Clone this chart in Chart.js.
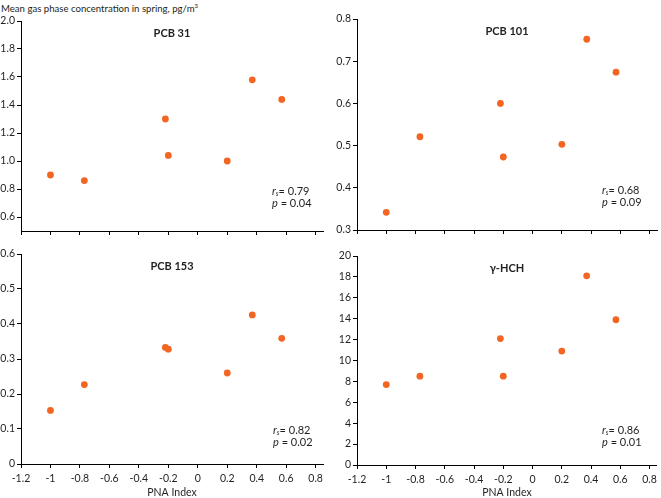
<!DOCTYPE html>
<html>
<head>
<meta charset="utf-8">
<script src="https://cdn.jsdelivr.net/npm/chart.js@4/dist/chart.umd.min.js"></script>
<style>
    body { margin: 0; background: #fff; width: 661px; height: 498px; position: relative; overflow: hidden; font-family: Lato, sans-serif; }
    .panel { position: absolute; }
    #main-title { position: absolute; left: 1px; top: 2px; font-size: 9.6px; color: #231f20; white-space: nowrap; }
    #main-title sup { font-size: 6px; }
</style>
</head>
<body>
<div id="main-title">Mean gas phase concentration in spring, pg/m<sup>3</sup></div>
<div class="panel" style="left:0;top:0;width:330px;height:240px"><canvas id="c0"></canvas></div>
<div class="panel" style="left:330px;top:0;width:331px;height:240px"><canvas id="c1"></canvas></div>
<div class="panel" style="left:0;top:240px;width:330px;height:258px"><canvas id="c2"></canvas></div>
<div class="panel" style="left:330px;top:240px;width:331px;height:258px"><canvas id="c3"></canvas></div>
<script>
// ===== Data =====
const pnaIndex = [-1.0, -0.77, -0.22, -0.2, 0.2, 0.37, 0.57];
const pcb31 = [0.90, 0.86, 1.30, 1.04, 1.00, 1.58, 1.44];
const pcb101 = [0.342, 0.521, 0.600, 0.473, 0.503, 0.752, 0.674];
const pcb153 = [0.153, 0.227, 0.333, 0.328, 0.260, 0.426, 0.359];
const hch = [7.7, 8.5, 12.1, 8.5, 10.9, 18.1, 13.9];

const xTicks = [-1.2, -1, -0.8, -0.6, -0.4, -0.2, 0, 0.2, 0.4, 0.6, 0.8];
const yTicks31 = [0.6, 0.8, 1.0, 1.2, 1.4, 1.6, 1.8, 2.0];
const yTicks101 = [0.3, 0.4, 0.5, 0.6, 0.7, 0.8];
const yTicks153 = [0, 0.1, 0.2, 0.3, 0.4, 0.5, 0.6];
const yTicksHch = [0, 2, 4, 6, 8, 10, 12, 14, 16, 18, 20];

const compounds = ['PCB 31', 'PCB 101', 'PCB 153', 'γ-HCH'];
const rsValues = ['0.79', '0.68', '0.82', '0.86'];
const pValues = ['0.04', '0.09', '0.02', '0.01'];

// ===== Panels =====
const ORANGE = '#f26522';
const TEXT = '#231f20';
const FONT = 'Lato, sans-serif';

const panels = [
    { id: 'c0', y: pcb31,  yTicks: yTicks31,  yMin: 0.5, yMax: 2.0, fmt: v => v.toFixed(1),
      yW: 21, xH: 9,  pad: { top: 21, right: 7, bottom: 0 }, bottomAxis: false, note: { dx: 251, dy: -40 } },
    { id: 'c1', y: pcb101, yTicks: yTicks101, yMin: 0.3, yMax: 0.8, fmt: v => v.toFixed(1),
      yW: 27, xH: 10, pad: { top: 19, right: 3, bottom: 0 }, bottomAxis: false, note: { dx: 245, dy: -40 } },
    { id: 'c2', y: pcb153, yTicks: yTicks153, yMin: 0, yMax: 0.6, fmt: v => v === 0 ? '0' : v.toFixed(1),
      yW: 21, xH: 34, pad: { top: 14, right: 7, bottom: 0 }, bottomAxis: true, note: { dx: 252, dy: -34 } },
    { id: 'c3', y: hch,    yTicks: yTicksHch, yMin: 0, yMax: 20, fmt: v => String(v),
      yW: 27, xH: 33, pad: { top: 16, right: 3, bottom: 0 }, bottomAxis: true, note: { dx: 245, dy: -35 } }
];

const panelText = {
    id: 'panelText',
    afterDraw(chart, args, opts) {
        const { ctx, chartArea: a } = chart;
        ctx.save();
        ctx.fillStyle = TEXT;
        ctx.textBaseline = 'middle';
        // compound name
        ctx.font = `bold 11px ${FONT}`;
        ctx.textAlign = 'center';
        ctx.fillText(opts.name, (a.left + a.right) / 2, a.top + 12.5);
        // r_s and p annotation
        ctx.textAlign = 'left';
        let x = a.left + opts.dx, y = a.bottom + opts.dy;
        ctx.font = `italic 11px ${FONT}`;
        ctx.fillText('r', x, y);
        x += ctx.measureText('r').width;
        ctx.font = `italic 7px ${FONT}`;
        ctx.fillText('s', x, y + 3);
        x += ctx.measureText('s').width;
        ctx.font = `11px ${FONT}`;
        ctx.fillText('= ' + opts.rs, x, y);
        x = a.left + opts.dx; y += 12;
        ctx.font = `italic 11px ${FONT}`;
        ctx.fillText('p', x, y);
        x += ctx.measureText('p').width;
        ctx.font = `11px ${FONT}`;
        ctx.fillText(' = ' + opts.p, x, y);
        ctx.restore();
    }
};

panels.forEach((p, i) => {
    new Chart(document.getElementById(p.id), {
        type: 'scatter',
        data: {
            datasets: [{
                data: pnaIndex.map((x, k) => ({ x, y: p.y[k] })),
                backgroundColor: ORANGE, borderWidth: 0, pointRadius: 3.4
            }]
        },
        options: {
            responsive: true, maintainAspectRatio: false, animation: false,
            layout: { padding: { left: 0, top: p.pad.top, right: p.pad.right, bottom: p.pad.bottom } },
            plugins: {
                legend: { display: false }, tooltip: { enabled: false },
                panelText: { name: compounds[i], rs: rsValues[i], p: pValues[i], dx: p.note.dx, dy: p.note.dy }
            },
            scales: {
                x: {
                    type: 'linear', min: -1.2, max: 0.85,
                    border: { color: '#000', width: 1 },
                    grid: { drawOnChartArea: false, drawTicks: true, tickLength: 4, color: '#000' },
                    ticks: { display: p.bottomAxis, padding: 4, color: TEXT, font: { family: FONT, size: 10.5 },
                             maxRotation: 0, callback: v => String(Math.round(v * 10) / 10) },
                    afterBuildTicks: s => { s.ticks = xTicks.map(v => ({ value: v })); },
                    afterFit: s => { s.height = p.xH; },
                    title: { display: p.bottomAxis, text: 'PNA Index', color: TEXT, font: { family: FONT, size: 10.5 },
                             padding: { top: 0, bottom: -1 } }
                },
                y: {
                    type: 'linear', min: p.yMin, max: p.yMax,
                    border: { color: '#000', width: 1 },
                    grid: { drawOnChartArea: false, drawTicks: true, tickLength: 4, color: '#000' },
                    ticks: { padding: 2, color: TEXT, font: { family: FONT, size: 10.5 }, callback: p.fmt },
                    afterBuildTicks: s => { s.ticks = p.yTicks.map(v => ({ value: v })); },
                    afterFit: s => { s.width = p.yW; }
                }
            }
        },
        plugins: [panelText]
    });
});
</script>
</body>
</html>
